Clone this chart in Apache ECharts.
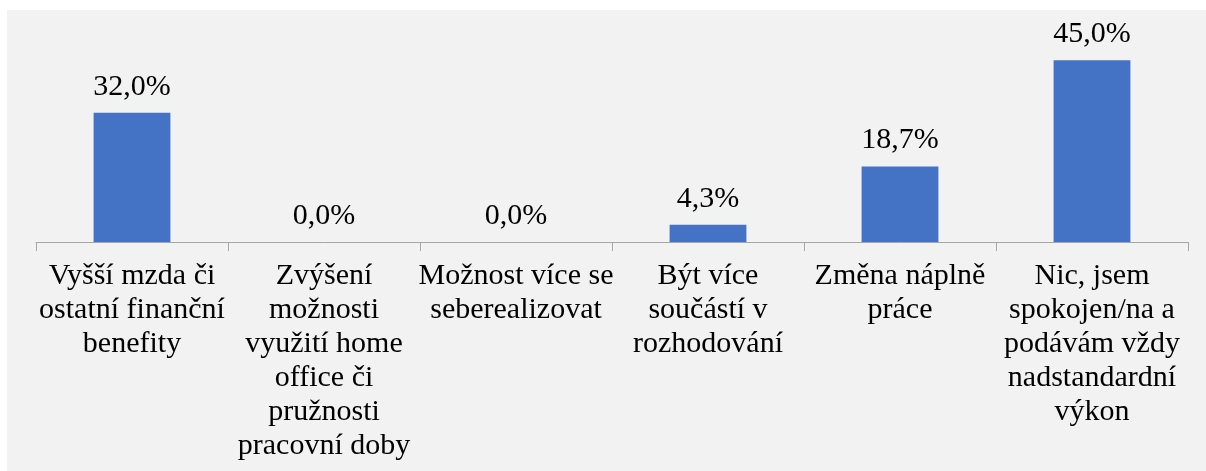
<!DOCTYPE html>
<html>
<head>
<meta charset="utf-8">
<script src="https://cdn.jsdelivr.net/npm/echarts@6/dist/echarts.min.js"></script>
<style>
  html, body { margin: 0; padding: 0; background: #fff; }
  #chart { position: absolute; left: 7px; top: 10px; width: 1199px; height: 461px; }
</style>
</head>
<body>
<div id="chart"></div>
<script>
// kategorie (zalomení řádků jako v originále)
const categories = [
  'Vyšší mzda či\nostatní finanční\nbenefity',
  'Zvýšení\nmožnosti\nvyužití home\noffice či\npružnosti\npracovní doby',
  'Možnost více se\nseberealizovat',
  'Být více\nsoučástí v\nrozhodování',
  'Změna náplně\npráce',
  'Nic, jsem\nspokojen/na a\npodávám vždy\nnadstandardní\nvýkon'
];
const values = [32.0, 0.0, 0.0, 4.3, 18.7, 45.0];

const FONT = '"Liberation Serif", "Times New Roman", serif';

const chart = echarts.init(document.getElementById('chart'));
chart.setOption({
  backgroundColor: '#f2f2f2',
  animation: false,
  grid: { left: 29, right: 18, top: 30, bottom: 229 },
  xAxis: {
    type: 'category',
    data: categories,
    axisLine: { lineStyle: { color: '#a6a6a6', width: 1 } },
    axisTick: { show: true, length: 9, lineStyle: { color: '#a6a6a6' } },
    axisLabel: {
      interval: 0,
      margin: 17,
      color: '#000',
      fontFamily: FONT,
      fontSize: 30,
      lineHeight: 34,
      align: 'center'
    }
  },
  yAxis: {
    type: 'value',
    min: 0,
    max: 50,
    show: false,
    splitLine: { show: false }
  },
  series: [{
    type: 'bar',
    data: values,
    barWidth: '40%',
    itemStyle: { color: '#4472c4' },
    label: {
      show: true,
      position: 'top',
      distance: 11,
      color: '#000',
      fontFamily: FONT,
      fontSize: 30,
      formatter: (p) => p.value.toFixed(1).replace('.', ',') + '%'
    }
  }]
});
</script>
</body>
</html>
